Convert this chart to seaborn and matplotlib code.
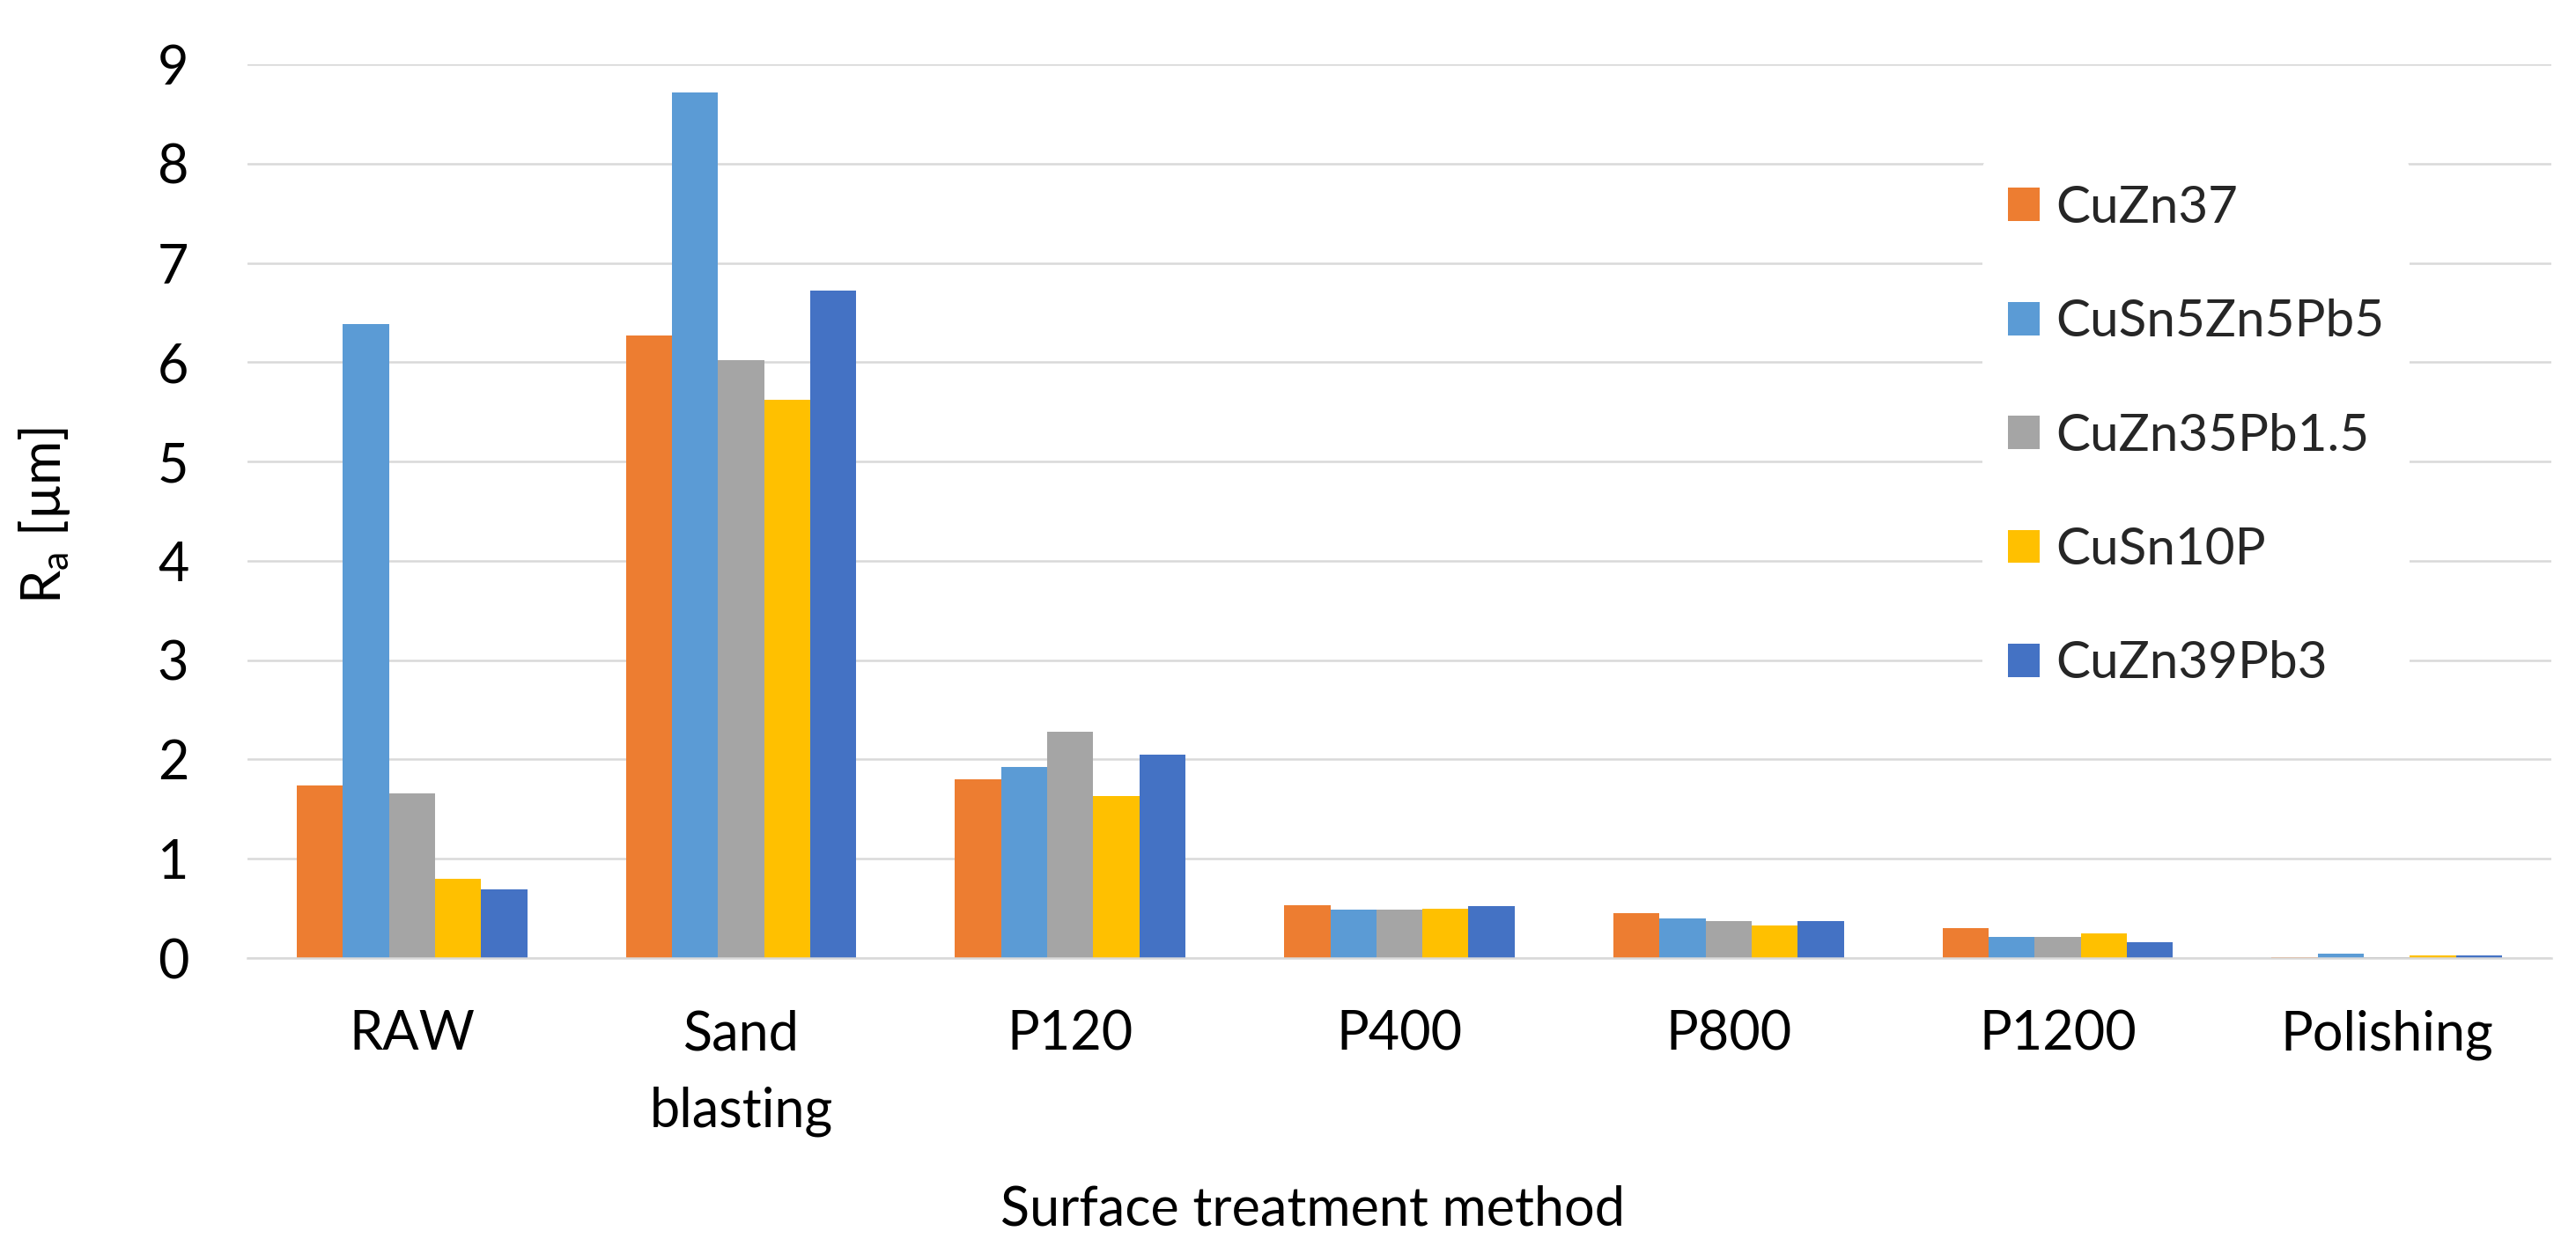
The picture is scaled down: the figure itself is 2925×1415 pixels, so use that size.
import pandas as pd
import matplotlib
matplotlib.use('Agg')
import matplotlib.pyplot as plt
import seaborn as sns

# ----- Ra roughness per surface treatment and alloy -----

methods = ['RAW', 'Sand\nblasting', 'P120', 'P400', 'P800', 'P1200', 'Polishing']
alloys = ['CuZn37', 'CuSn5Zn5Pb5', 'CuZn35Pb1.5', 'CuSn10P', 'CuZn39Pb3']

cuzn37 = [1.74, 6.27, 1.80, 0.53, 0.45, 0.30, 0.005]
cusn5zn5pb5 = [6.38, 8.72, 1.92, 0.49, 0.40, 0.21, 0.04]
cuzn35pb15 = [1.66, 6.02, 2.28, 0.49, 0.37, 0.21, 0.01]
cusn10p = [0.80, 5.62, 1.63, 0.50, 0.33, 0.25, 0.03]
cuzn39pb3 = [0.69, 6.72, 2.05, 0.52, 0.37, 0.16, 0.03]

colors = ['#ED7D31', '#5B9BD5', '#A5A5A5', '#FFC000', '#4472C4']

# long form table for seaborn
series = [cuzn37, cusn5zn5pb5, cuzn35pb15, cusn10p, cuzn39pb3]
rows = []
for alloy, vals in zip(alloys, series):
    for m, v in zip(methods, vals):
        rows.append({'Method': m, 'Alloy': alloy, 'Ra': v})
df = pd.DataFrame(rows)

sns.set_theme(style='white')
plt.rcParams['font.family'] = ['Lato', 'DejaVu Sans']
plt.rcParams['mathtext.fontset'] = 'custom'
plt.rcParams['mathtext.rm'] = 'Lato'
plt.rcParams['mathtext.it'] = 'Lato:italic'

fig = plt.figure(figsize=(29.25, 14.15), dpi=100)
ax = fig.add_axes([281 / 2925, 1 - 1088 / 1415, 2616 / 2925, 1015 / 1415])

sns.barplot(data=df, x='Method', y='Ra', hue='Alloy', order=methods, hue_order=alloys,
            palette=colors, saturation=1, width=0.7, linewidth=0, ax=ax)

ax.set_ylim(0, 9)
ax.set_xlim(-0.5, 6.5)
ax.set_yticks(range(0, 10))
ax.yaxis.grid(True, color='#D9D9D9', linewidth=1.8)
ax.set_axisbelow(True)
for s in ['top', 'right', 'left']:
    ax.spines[s].set_visible(False)
ax.spines['bottom'].set_color('#D9D9D9')
ax.spines['bottom'].set_linewidth(1.8)
ax.tick_params(axis='y', length=0, pad=48, labelsize=44, labelcolor='black')
ax.tick_params(axis='x', length=0, pad=42, labelsize=44, labelcolor='black')
for t in ax.get_xticklabels():
    t.set_linespacing(1.65)
ax.set_xlabel('')
ax.set_ylabel('')

fig.text(51 / 2925, 1 - 585 / 1415, r'R$_\mathrm{a}$ [µm]', rotation=90,
         ha='center', va='center', fontsize=44, color='black')
fig.text(1490 / 2925, 1 - 1392 / 1415, 'Surface treatment method',
         ha='center', va='baseline', fontsize=44, color='black')

leg = ax.legend(loc='upper left', bbox_to_anchor=(0.7531, 0.894), fontsize=42,
                frameon=True, facecolor='white', edgecolor='white', framealpha=1,
                borderpad=0.5, borderaxespad=0, labelspacing=1.31,
                handlelength=0.62, handleheight=0.62, handletextpad=0.3)
leg.get_frame().set_linewidth(0)

plt.savefig('out.png', dpi=100)
